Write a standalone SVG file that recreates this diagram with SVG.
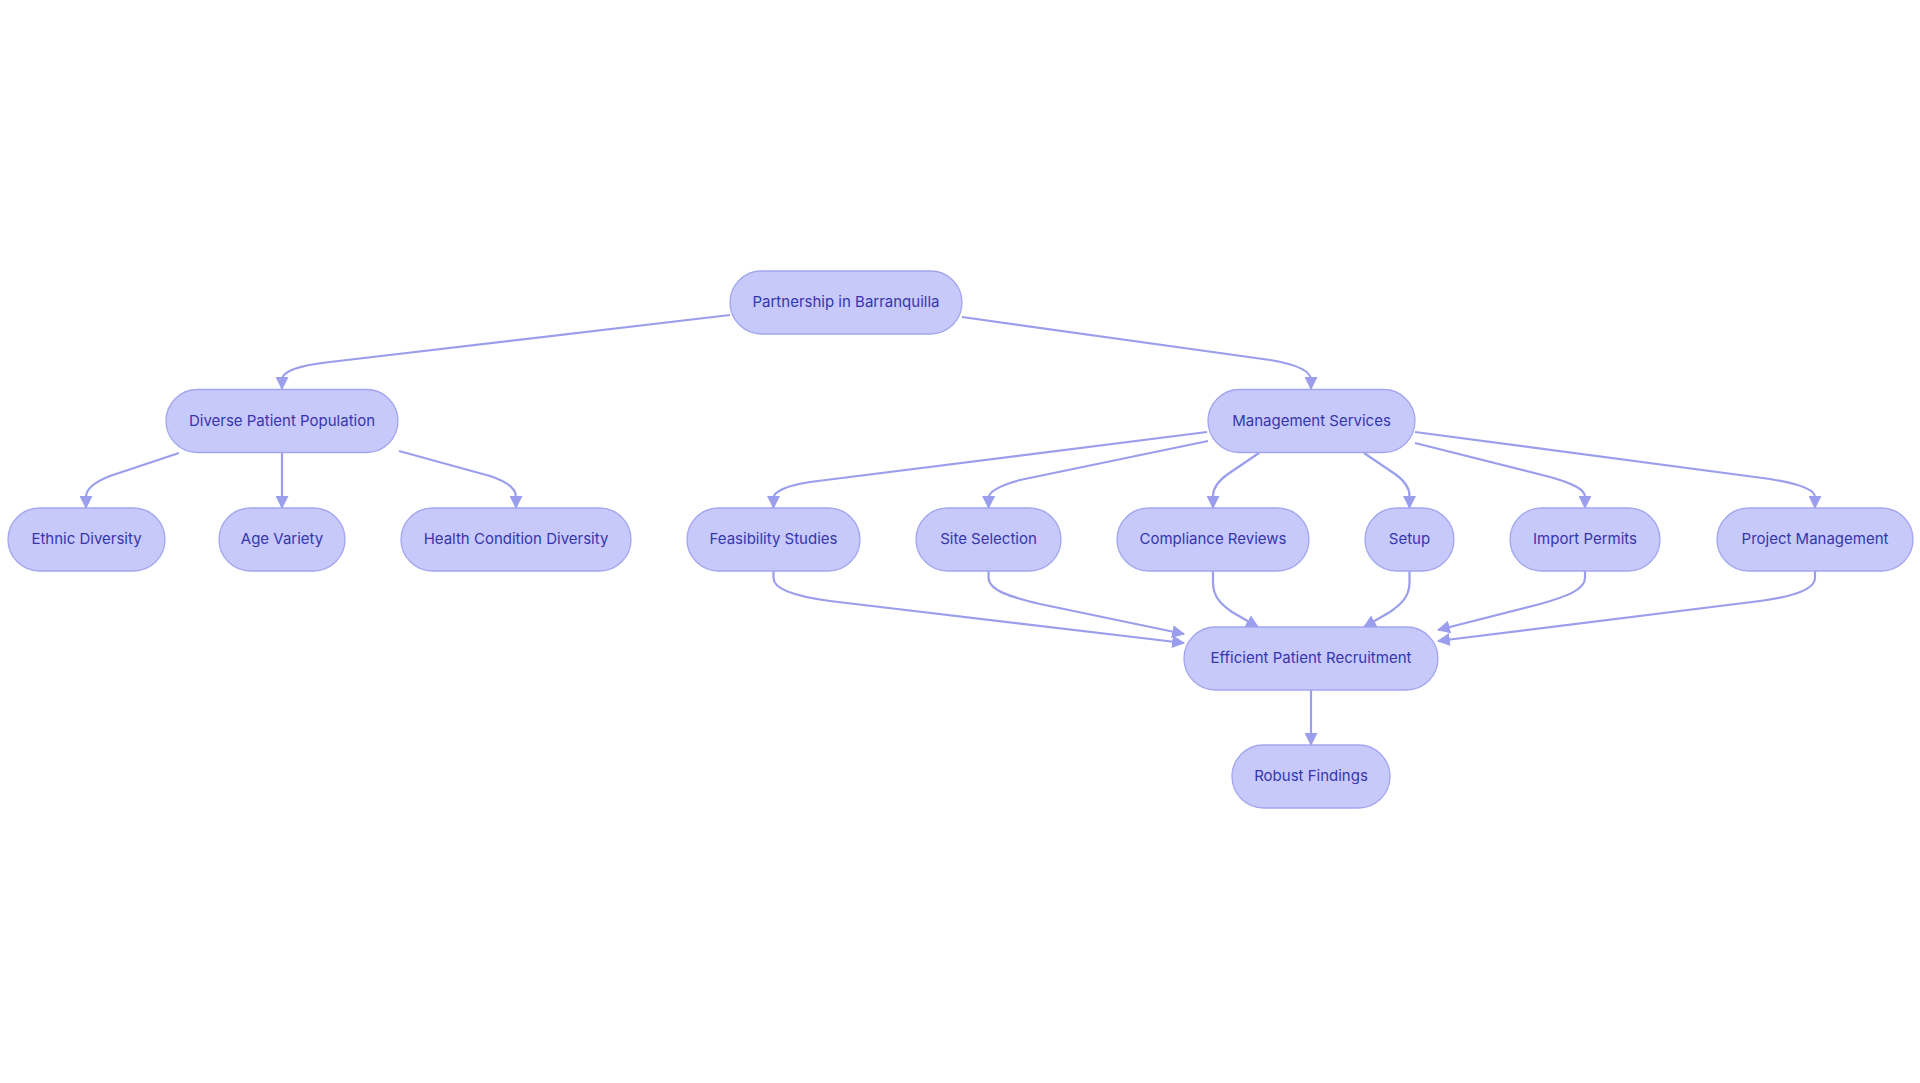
<svg xmlns="http://www.w3.org/2000/svg" width="1920" height="1083" viewBox="0 0 1920 1083">
<style>
.n rect{fill:#c7c9fb;stroke:#a3a6ee;stroke-width:1.3}
.n text{font-family:Inter,"Open Sans","Liberation Sans",sans-serif;font-size:15px;fill:#3636ab;text-anchor:middle;dominant-baseline:central}
.e path{fill:none;stroke:#9b9eec;stroke-width:2.2}
</style>
<defs>
<marker id="ah" viewBox="0 0 12 12" refX="11" refY="6" markerWidth="13" markerHeight="13" markerUnits="userSpaceOnUse" orient="auto">
<path d="M0,0 L12,6 L0,12 z" fill="#9b9eec"/>
</marker>
</defs>
<rect width="1920" height="1083" fill="#ffffff"/>
<g class="e" marker-end="url(#ah)">
<path d="M730,315 L330,362 C295,366 282,372 282,380 L282,389"/>
<path d="M962,317 L1270,360 C1300,365 1311,372 1311,380 L1311,389"/>
<path d="M179,453 L110,476 C92,483 86,490 86,497 L86,508"/>
<path d="M282,453 L282,508"/>
<path d="M399,451 L490,476 C508,482 516,489 516,497 L516,508"/>
<path d="M1207,432 L810,482 C785,486 773.5,492 773.5,498 L773.5,508"/>
<path d="M1208,441 L1020,480 C998,486 988.6,492 988.6,498 L988.6,508"/>
<path d="M1259,453 L1228,474 C1218,481 1213,488 1213,496 L1213,508"/>
<path d="M1364,453 L1395,474 C1405,481 1409.5,488 1409.5,496 L1409.5,508"/>
<path d="M1415,443 L1550,477 C1575,484 1585,490 1585,497 L1585,508"/>
<path d="M1415,432 L1770,479 C1800,484 1815,490 1815,497 L1815,508"/>
<path d="M773.5,571 L773.5,578 C773.5,590 800,597 830,601 L1184,643"/>
<path d="M988.6,571 L988.6,578 C988.6,590 1010,597 1040,604 L1184,634"/>
<path d="M1213,571 L1213,583 C1213,597 1222,605 1232,612 L1258,627"/>
<path d="M1409.5,571 L1409.5,583 C1409.5,597 1400,605 1390,612 L1364,627"/>
<path d="M1585,571 L1585,578 C1585,590 1565,597 1540,604 L1438,630"/>
<path d="M1815,571 L1815,578 C1815,590 1790,597 1760,601 L1438,641"/>
<path d="M1311,690 L1311,745"/>
</g>
<g id="partnership" class="n"><rect x="730" y="271" width="232" height="63" rx="31.5"/><text x="846" y="301.5">Partnership in Barranquilla</text></g>
<g id="diverse" class="n"><rect x="166" y="389.5" width="232" height="63" rx="31.5"/><text x="282" y="420">Diverse Patient Population</text></g>
<g id="management" class="n"><rect x="1208" y="389.5" width="207" height="63" rx="31.5"/><text x="1311.5" y="420">Management Services</text></g>
<g id="ethnic" class="n"><rect x="8" y="508" width="157" height="63" rx="31.5"/><text x="86.5" y="538.5">Ethnic Diversity</text></g>
<g id="age" class="n"><rect x="219" y="508" width="126" height="63" rx="31.5"/><text x="282" y="538.5">Age Variety</text></g>
<g id="health" class="n"><rect x="401" y="508" width="230" height="63" rx="31.5"/><text x="516" y="538.5">Health Condition Diversity</text></g>
<g id="feasibility" class="n"><rect x="687" y="508" width="173" height="63" rx="31.5"/><text x="773.5" y="538.5">Feasibility Studies</text></g>
<g id="site" class="n"><rect x="916" y="508" width="145" height="63" rx="31.5"/><text x="988.5" y="538.5">Site Selection</text></g>
<g id="compliance" class="n"><rect x="1117" y="508" width="192" height="63" rx="31.5"/><text x="1213" y="538.5">Compliance Reviews</text></g>
<g id="setup" class="n"><rect x="1365" y="508" width="89" height="63" rx="31.5"/><text x="1409.5" y="538.5">Setup</text></g>
<g id="import" class="n"><rect x="1510" y="508" width="150" height="63" rx="31.5"/><text x="1585" y="538.5">Import Permits</text></g>
<g id="project" class="n"><rect x="1717" y="508" width="196" height="63" rx="31.5"/><text x="1815" y="538.5">Project Management</text></g>
<g id="efficient" class="n"><rect x="1184" y="627" width="254" height="63" rx="31.5"/><text x="1311" y="657.5">Efficient Patient Recruitment</text></g>
<g id="robust" class="n"><rect x="1232" y="745" width="158" height="63" rx="31.5"/><text x="1311" y="775.5">Robust Findings</text></g>
</svg>
